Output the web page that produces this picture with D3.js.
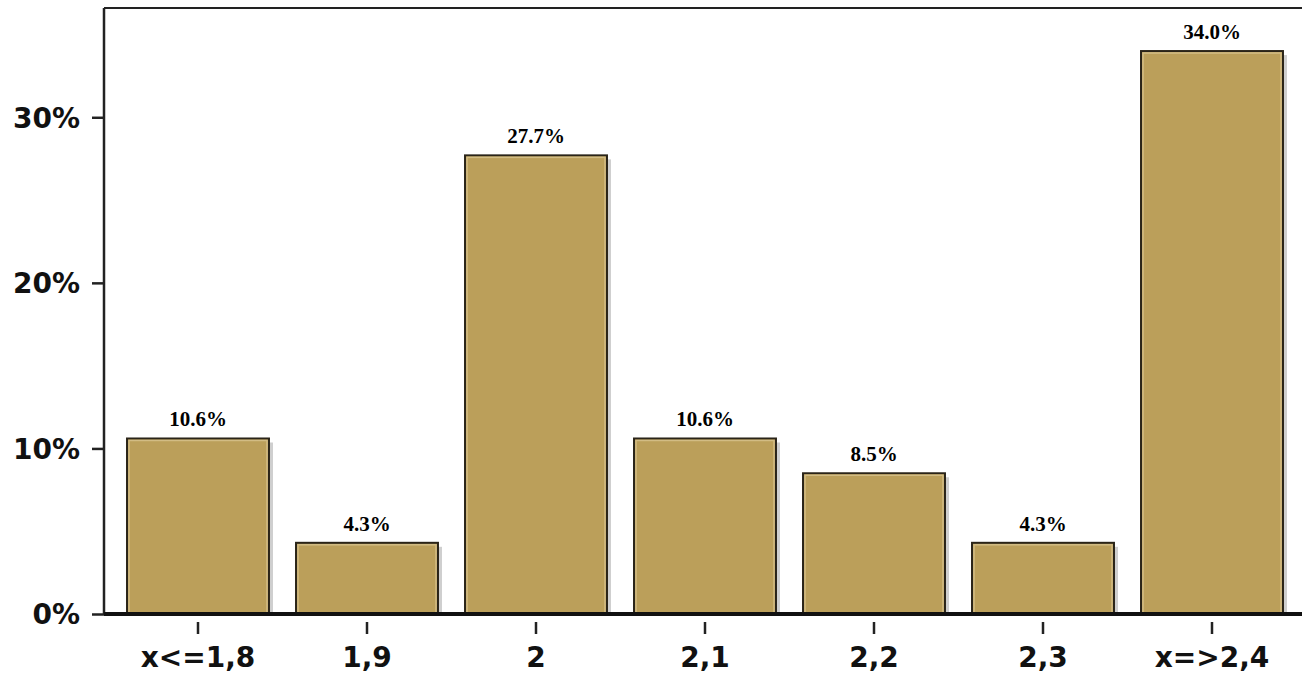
<!DOCTYPE html>
<html><head><meta charset="utf-8">
<script src="https://cdn.jsdelivr.net/npm/d3@7"></script>
<style>body{margin:0;background:#fff}</style>
</head><body>
<svg id="main-svg" width="1302" height="675"></svg>
<script>
const categories = ["x<=1,8", "1,9", "2", "2,1", "2,2", "2,3", "x=>2,4"];
const values = [10.6, 4.3, 27.7, 10.6, 8.5, 4.3, 34.0];
const yTicks = [0, 10, 20, 30];

const svg = d3.select("#main-svg");
const mLeft = 104, mTop = 8, mRight = 1302, mBottom = 614;

const x = d3.scaleBand().domain(categories).range([113.5, 1296.5]).paddingInner(0.16).paddingOuter(0.08);
const y = d3.scaleLinear().domain([0, 36.6]).range([mBottom, mTop]);

// shadows
svg.append("g").selectAll("rect").data(values).join("rect")
  .attr("x", (d, i) => x(categories[i]) + 4)
  .attr("y", d => y(d) + 4)
  .attr("width", x.bandwidth())
  .attr("height", d => mBottom - y(d) - 4)
  .attr("fill", "#cfcfcf");

// bars
svg.append("g").selectAll("rect").data(values).join("rect")
  .attr("x", (d, i) => x(categories[i]))
  .attr("y", d => y(d))
  .attr("width", x.bandwidth())
  .attr("height", d => mBottom - y(d))
  .attr("fill", "#bb9f5a")
  .attr("stroke", "#2a2418")
  .attr("stroke-width", 2);

// inner highlight
svg.append("g").selectAll("rect").data(values).join("rect")
  .attr("x", (d, i) => x(categories[i]) + 2)
  .attr("y", d => y(d) + 2)
  .attr("width", x.bandwidth() - 4)
  .attr("height", d => mBottom - y(d) - 2)
  .attr("fill", "none")
  .attr("stroke", "#d2bc84")
  .attr("stroke-width", 1.5);

// value labels
svg.append("g").selectAll("text").data(values).join("text")
  .attr("x", (d, i) => x(categories[i]) + x.bandwidth() / 2)
  .attr("y", d => y(d) - 12)
  .attr("text-anchor", "middle")
  .style("font", "bold 21px 'Liberation Serif', serif")
  .text(d => d.toFixed(1) + "%");

// frame
svg.append("line").attr("x1", mLeft).attr("x2", mRight).attr("y1", mTop).attr("y2", mTop)
  .attr("stroke", "#222").attr("stroke-width", 2);

const yAxis = svg.append("g").attr("transform", `translate(${mLeft},0)`)
  .call(d3.axisLeft(y).tickValues(yTicks).tickSize(12).tickFormat(d => d + "%"));
yAxis.select(".domain").attr("d", `M0,${mTop}V${mBottom}`).attr("stroke", "#222").attr("stroke-width", 2.5);
yAxis.selectAll(".tick line").attr("stroke", "#222").attr("stroke-width", 2.5);
yAxis.selectAll("text").attr("x", -24).attr("dy", "0.35em")
  .style("font", "bold 28px 'DejaVu Sans', sans-serif").attr("fill", "#111");

const xAxis = svg.append("g").attr("transform", `translate(0,${mBottom})`)
  .call(d3.axisBottom(x).tickSize(20).tickSizeOuter(0));
xAxis.select(".domain").attr("d", `M${mLeft},0H${mRight}`).attr("stroke", "#111").attr("stroke-width", 4);
xAxis.selectAll(".tick line").attr("y1", 8).attr("stroke", "#222").attr("stroke-width", 2.5);
xAxis.selectAll("text").attr("y", 33)
  .style("font", "bold 28px 'DejaVu Sans', sans-serif").attr("fill", "#111");
</script>
</body></html>
